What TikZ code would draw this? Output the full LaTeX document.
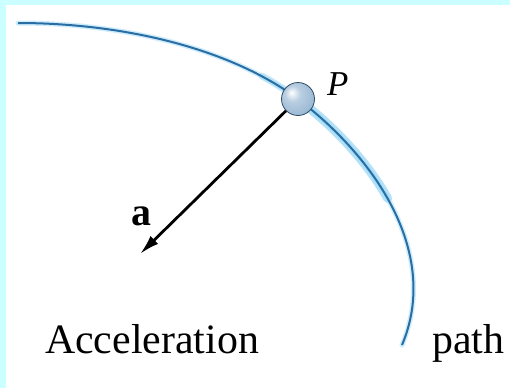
\documentclass[tikz,border=0pt]{standalone}
\usepackage{fontspec}
\setmainfont{Liberation Serif}
\usetikzlibrary{arrows.meta}
\definecolor{framecyan}{RGB}{204,255,255}
\definecolor{pathblue}{RGB}{40,110,165}
\definecolor{pathglow}{RGB}{150,215,245}
\definecolor{ballmid}{RGB}{155,185,212}
\definecolor{ballout}{RGB}{70,108,148}
\pgfdeclareradialshading{myball}{\pgfpoint{-10bp}{10bp}}{%
  color(0bp)=(white); color(12bp)=(ballmid!70!white); color(30bp)=(ballmid); color(45bp)=(ballout); color(60bp)=(ballout)}
\tikzset{
  lbl/.style={font=\fontsize{42}{50}\selectfont, inner sep=0pt, anchor=base west},
  pathline/.style={draw=pathblue, line width=2bp},
  glowline/.style={draw=pathglow, line width=5bp, line cap=round},
  accel/.style={draw=black, line width=2.8bp, -{Latex[length=20bp,width=11bp]}},
  particle/.style={circle, minimum size=33bp, inner sep=0pt, shading=myball, draw=ballout!70!black, line width=0.8bp}
}
\begin{document}
\begin{tikzpicture}[x=1bp,y=-1bp]
\useasboundingbox (0,0) rectangle (510,387);
\fill[white] (-5,-5) rectangle (520,395);
\fill[framecyan] (-5,-5) rectangle (520,5);
\fill[framecyan] (-5,-5) rectangle (6,395);
\coordinate (s) at (18,23);
\coordinate (pc) at (298,99);
\coordinate (e) at (402,345);
% path glow
\draw[glowline, draw opacity=0.45] (s) .. controls (120,23) and (228,47) .. (pc)
  .. controls (378,160) and (440,255) .. (e);
\draw[draw=pathglow, line width=9bp, line cap=round, draw opacity=0.7]
  (pc) .. controls (334,126.5) and (366.4,160.7) .. (387.6,198.3);
\draw[draw=pathglow, line width=7bp, line cap=round, draw opacity=0.5]
  (262,76) .. controls (275,83) and (287,91) .. (pc);
% path
\draw[pathline] (s) .. controls (120,23) and (228,47) .. (pc)
  .. controls (378,160) and (440,255) .. (e);
% particle
\node[particle] (p) at (pc) {};
\coordinate (tip) at (140,254);
\draw[accel] (p) -- (tip);
% labels
\node[lbl, font=\fontsize{35}{40}\selectfont\itshape] (plbl) at (327,95) {P};
\node[lbl, font=\fontsize{40}{48}\selectfont\bfseries] (albl) at (131,225) {a};
\node[lbl] (acc) at (45,353) {Acceleration};
\node[lbl] (pth) at (432,353) {path};
\end{tikzpicture}
\end{document}
